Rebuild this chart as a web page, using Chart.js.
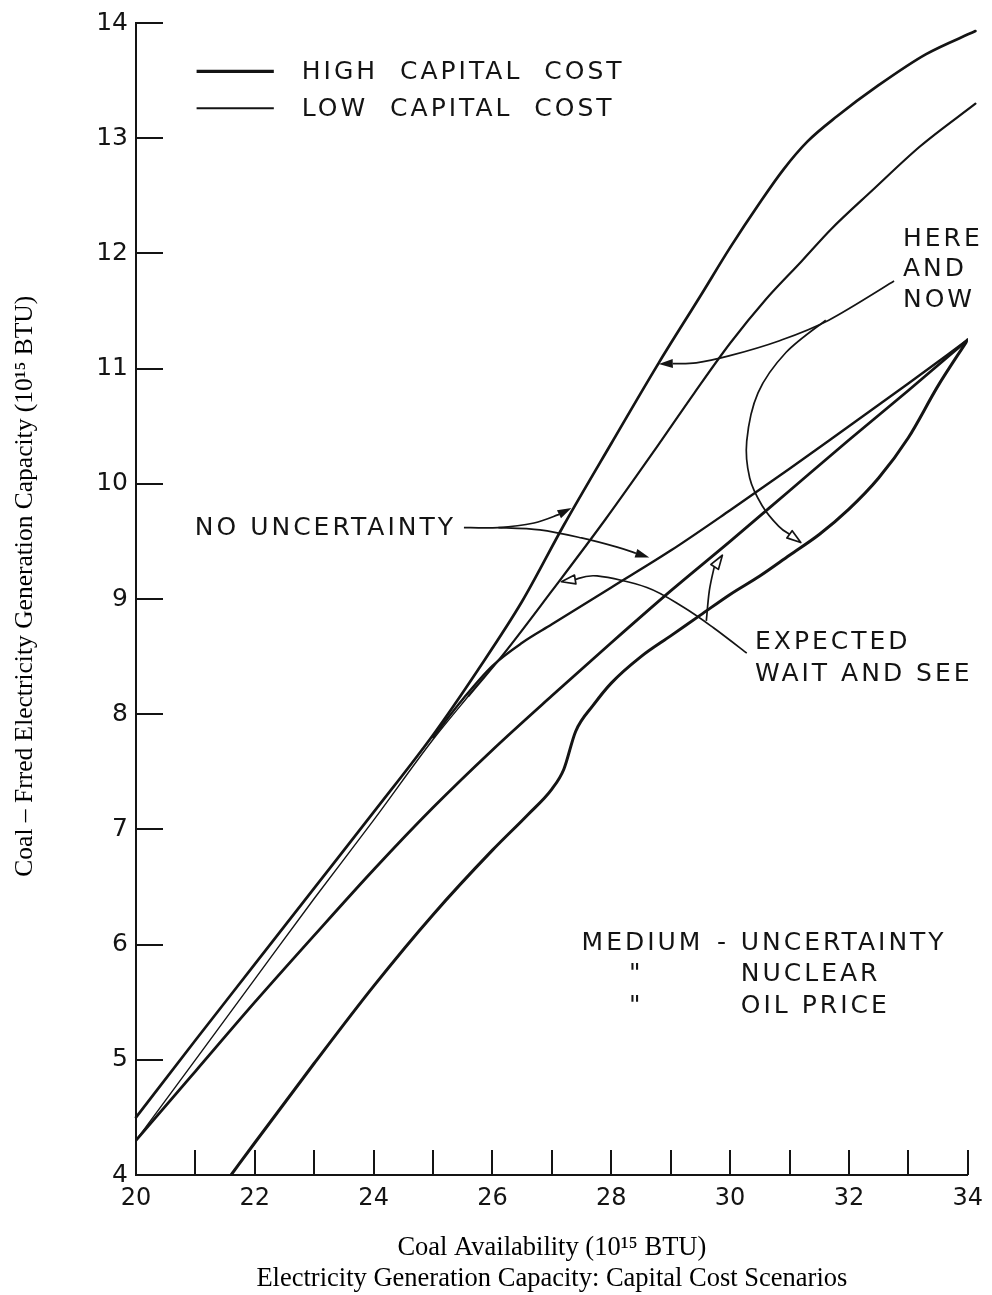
<!DOCTYPE html>
<html>
<head>
<meta charset="utf-8">
<script src="https://cdn.jsdelivr.net/npm/chart.js@4.4.1/dist/chart.umd.min.js"></script>
<style>
  html, body { margin: 0; padding: 0; background: #ffffff; }
  #wrap { width: 992px; height: 1295px; }
</style>
</head>
<body>
<div id="wrap"><canvas id="chart" width="992" height="1295"></canvas></div>
<script>
// ---------------- data ----------------
const xTitleText = 'Coal Availability (10\u00B9\u2075 BTU)';
const chartTitleText = 'Electricity Generation Capacity: Capital Cost Scenarios';
const yTitleText = '\u2002\u2002Coal \u2013 Frred Electricity Generation Capacity (10\u00B9\u2075 BTU)';

const xMin = 20, xMax = 34;
const yMin = 4, yMax = 14;

// Upper-left curve (Here and Now / No Uncertainty, high capital cost)
const curveAX = [20, 21, 22, 23, 24, 25, 25.75, 26.5, 27.2, 28.0, 28.8, 29.5, 30.0, 30.5, 30.9, 31.3, 31.8, 32.5, 33.3, 34.13];
const curveAY = [4.5, 5.17, 5.83, 6.49, 7.15, 7.82, 8.38, 8.98, 9.64, 10.35, 11.05, 11.63, 12.05, 12.44, 12.73, 12.97, 13.19, 13.46, 13.73, 13.93];

// Thin curve starting at 4.3 (Expected Wait and See, low capital cost)
const curveBX = [20, 21, 22, 23, 24, 25, 25.6, 26.2, 27.0, 27.9, 28.7, 29.4, 30.0, 30.6, 31.2, 31.7, 32.4, 33.2, 34.13];
const curveBY = [4.3, 5.0, 5.7, 6.4, 7.08, 7.78, 8.16, 8.53, 9.07, 9.69, 10.27, 10.79, 11.22, 11.6, 11.93, 12.21, 12.55, 12.93, 13.3];

// Upper straight branch (No Uncertainty, low capital cost)
const curveCX = [25.0, 25.5, 26.0, 26.5, 27.0, 28.0, 29.0, 30.0, 31.0, 32.0, 33.0, 34];
const curveCY = [7.8, 8.13, 8.42, 8.62, 8.78, 9.1, 9.42, 9.77, 10.13, 10.5, 10.87, 11.25];

// Middle concave line (Expected Wait and See, high capital cost)
const curveDX = [20, 21, 22, 23, 24, 25, 26, 27, 28, 29, 30, 31, 32, 33, 34];
const curveDY = [4.3, 4.9, 5.5, 6.08, 6.65, 7.19, 7.69, 8.16, 8.62, 9.07, 9.5, 9.94, 10.38, 10.81, 11.25];

// Bottom curve (Here and Now, low capital cost)
const curveEX = [21.6, 22, 23, 24, 25, 26, 26.6, 27.0, 27.2, 27.4, 27.7, 28.0, 28.5, 29.0, 29.5, 30.0, 30.5, 31.0, 31.5, 32.0, 32.5, 33.0, 33.5, 34];
const curveEY = [4.0, 4.28, 4.97, 5.64, 6.26, 6.82, 7.13, 7.35, 7.52, 7.85, 8.08, 8.27, 8.5, 8.68, 8.86, 9.04, 9.2, 9.38, 9.56, 9.78, 10.05, 10.4, 10.85, 11.25];

// Annotation leader curves (data units), last point = arrow tip
const arrowHereNowA = [[32.76, 11.76], [31.66, 11.42], [30.82, 11.24], [29.98, 11.11], [29.43, 11.05], [28.8, 11.04]];
const arrowHereNowB = [[31.61, 11.42], [30.94, 11.14], [30.47, 10.79], [30.28, 10.37], [30.33, 10.05], [30.54, 9.81], [30.82, 9.63], [31.19, 9.49]];
const arrowNoUncA = [[25.52, 9.62], [26.1, 9.62], [26.7, 9.66], [27.1, 9.73], [27.33, 9.79]];
const arrowNoUncB = [[26.1, 9.62], [26.8, 9.6], [27.5, 9.53], [28.1, 9.45], [28.64, 9.36]];
const arrowWaitA = [[30.28, 8.53], [29.72, 8.75], [29.21, 8.93], [28.6, 9.1], [27.76, 9.2], [27.16, 9.15]];
const arrowWaitB = [[29.6, 8.81], [29.65, 9.07], [29.73, 9.27], [29.87, 9.38]];

// Text annotations (data units: left x, middle y)
const legendItems = [
  { label: 'HIGH  CAPITAL  COST', x0: 21.02, x1: 22.32, textX: 22.79, y: 13.58, thick: true },
  { label: 'LOW  CAPITAL  COST', x0: 21.02, x1: 22.32, textX: 22.79, y: 13.26, thick: false }
];
const textNotes = [
  { text: 'HERE', x: 32.91, y: 12.13 },
  { text: 'AND', x: 32.91, y: 11.87 },
  { text: 'NOW', x: 32.91, y: 11.6 },
  { text: 'NO UNCERTAINTY', x: 20.99, y: 9.62 },
  { text: 'EXPECTED', x: 30.42, y: 8.63 },
  { text: 'WAIT AND SEE', x: 30.42, y: 8.35 },
  { text: 'MEDIUM', x: 27.5, y: 6.02 },
  { text: '-', x: 29.78, y: 6.02 },
  { text: 'UNCERTAINTY', x: 30.18, y: 6.02 },
  { text: '"', x: 28.3, y: 5.75 },
  { text: 'NUCLEAR', x: 30.18, y: 5.75 },
  { text: '"', x: 28.3, y: 5.47 },
  { text: 'OIL PRICE', x: 30.18, y: 5.47 }
];

// ---------------- drawing ----------------
const INK = '#141414';
const toPoints = (xs, ys) => xs.map((v, i) => ({ x: v, y: ys[i] }));

function smoothPath(ctx, pts) {
  ctx.moveTo(pts[0][0], pts[0][1]);
  for (let i = 0; i < pts.length - 1; i++) {
    const p0 = pts[i - 1] || pts[i], p1 = pts[i], p2 = pts[i + 1], p3 = pts[i + 2] || p2;
    ctx.bezierCurveTo(
      p1[0] + (p2[0] - p0[0]) / 6, p1[1] + (p2[1] - p0[1]) / 6,
      p2[0] - (p3[0] - p1[0]) / 6, p2[1] - (p3[1] - p1[1]) / 6,
      p2[0], p2[1]);
  }
}

function drawArrow(ctx, pts, filled) {
  const n = pts.length;
  const tip = pts[n - 1], prev = pts[n - 2];
  let dx = tip[0] - prev[0], dy = tip[1] - prev[1];
  const len = Math.hypot(dx, dy) || 1; dx /= len; dy /= len;
  const L = 14, W = 4.5;
  const base = [tip[0] - dx * L, tip[1] - dy * L];
  const linePts = pts.slice(0, n - 1).concat([base]);
  ctx.beginPath(); smoothPath(ctx, linePts); ctx.stroke();
  ctx.beginPath();
  ctx.moveTo(tip[0], tip[1]);
  ctx.lineTo(base[0] - dy * W, base[1] + dx * W);
  ctx.lineTo(base[0] + dy * W, base[1] - dx * W);
  ctx.closePath();
  if (filled) { ctx.fillStyle = INK; ctx.fill(); }
  else { ctx.fillStyle = '#fff'; ctx.fill(); ctx.stroke(); }
}

const annotationPlugin = {
  id: 'annotations',
  afterDatasetsDraw(chart) {
    const { ctx, chartArea, scales } = chart;
    const sx = scales.x, sy = scales.y;
    const px = v => sx.getPixelForValue(v), py = v => sy.getPixelForValue(v);
    const toPx = arr => arr.map(p => [px(p[0]), py(p[1])]);
    ctx.save();
    ctx.strokeStyle = INK; ctx.lineCap = 'butt';

    // inner tick marks from the scales' own ticks
    ctx.lineWidth = 2;
    sx.ticks.forEach(t => {
      if (t.value === sx.min) return;
      const X = Math.round(px(t.value));
      ctx.beginPath(); ctx.moveTo(X, chartArea.bottom); ctx.lineTo(X, chartArea.bottom - 25); ctx.stroke();
    });
    sy.ticks.forEach(t => {
      if (t.value === sy.min) return;
      const Y = Math.round(py(t.value));
      ctx.beginPath(); ctx.moveTo(chartArea.left, Y); ctx.lineTo(chartArea.left + 27, Y); ctx.stroke();
    });

    // legend
    ctx.font = '25px "DejaVu Sans"';
    ctx.textBaseline = 'middle'; ctx.textAlign = 'left';
    ctx.fillStyle = INK;
    try { ctx.letterSpacing = '3px'; } catch (e) {}
    legendItems.forEach(it => {
      ctx.lineWidth = it.thick ? 3.2 : 1.8;
      ctx.beginPath(); ctx.moveTo(px(it.x0), py(it.y)); ctx.lineTo(px(it.x1), py(it.y)); ctx.stroke();
      ctx.fillText(it.label, px(it.textX), py(it.y) + 1);
    });

    // text notes
    textNotes.forEach(t => ctx.fillText(t.text, px(t.x), py(t.y) + 1));
    try { ctx.letterSpacing = '0px'; } catch (e) {}

    // leader curves with arrowheads
    ctx.lineWidth = 1.7; ctx.lineJoin = 'round';
    drawArrow(ctx, toPx(arrowHereNowA), true);
    drawArrow(ctx, toPx(arrowHereNowB), false);
    drawArrow(ctx, toPx(arrowNoUncA), true);
    drawArrow(ctx, toPx(arrowNoUncB), true);
    drawArrow(ctx, toPx(arrowWaitA), false);
    drawArrow(ctx, toPx(arrowWaitB), false);
    ctx.restore();
  }
};

const lineBase = {
  borderColor: INK,
  pointRadius: 0,
  fill: false,
  cubicInterpolationMode: 'monotone',
  borderCapStyle: 'round',
  borderJoinStyle: 'round'
};

new Chart(document.getElementById('chart'), {
  type: 'line',
  data: {
    datasets: [
      Object.assign({ label: 'Here and Now / No Uncertainty (high capital cost)', data: toPoints(curveAX, curveAY), borderWidth: 2.7, clip: false }, lineBase),
      Object.assign({ label: 'Expected Wait and See (low capital cost)', data: toPoints(curveBX, curveBY), borderWidth: 2.2, clip: false,
        segment: { borderWidth: c => (c.p0.parsed.x < 25.5 ? 1.4 : 2.2) } }, lineBase),
      Object.assign({ label: 'No Uncertainty (low capital cost)', data: toPoints(curveCX, curveCY), borderWidth: 2.4 }, lineBase),
      Object.assign({ label: 'Expected Wait and See (high capital cost)', data: toPoints(curveDX, curveDY), borderWidth: 2.8 }, lineBase),
      Object.assign({ label: 'Here and Now (low capital cost)', data: toPoints(curveEX, curveEY), borderWidth: 3.0 }, lineBase)
    ]
  },
  options: {
    responsive: false,
    animation: false,
    layout: { padding: { top: 22, right: 19, left: 0, bottom: 0 } },
    plugins: {
      legend: { display: false },
      tooltip: { enabled: false },
      title: { display: false }
    },
    scales: {
      x: {
        type: 'linear', min: xMin, max: xMax,
        afterFit(s) { s.height = 120; },
        ticks: {
          stepSize: 1, autoSkip: false, maxRotation: 0, padding: 9,
          font: { family: 'DejaVu Sans', size: 24 }, color: INK,
          callback: v => (v % 2 === 0 ? String(v) : '')
        },
        grid: { drawOnChartArea: false, drawTicks: false },
        border: { color: INK, width: 2 },
        title: {
          display: true, text: [xTitleText, chartTitleText], color: '#000',
          font: { family: 'Liberation Serif', size: 26.5, lineHeight: 1.18 },
          padding: { top: 0, bottom: 0 }
        }
      },
      y: {
        type: 'linear', min: yMin, max: yMax,
        afterFit(s) { s.width = 136; },
        ticks: {
          stepSize: 1, padding: 8,
          font: { family: 'DejaVu Sans', size: 25 }, color: INK
        },
        grid: { drawOnChartArea: false, drawTicks: false },
        border: { color: INK, width: 2 },
        title: {
          display: true, text: yTitleText, color: '#000',
          font: { family: 'Liberation Serif', size: 25.5, lineHeight: 1.2 },
          padding: { top: 10, bottom: 0 }
        }
      }
    }
  },
  plugins: [annotationPlugin]
});
</script>
</body>
</html>
